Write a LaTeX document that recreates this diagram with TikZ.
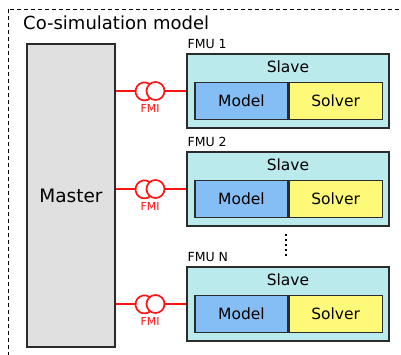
\documentclass[tikz,border=0pt]{standalone}
\usepackage{fontspec}
\setmainfont{DejaVu Sans}

\definecolor{mastergray}{HTML}{E0E0E0}
\definecolor{slavecyan}{HTML}{BAEAEC}
\definecolor{modelblue}{HTML}{84BEF5}
\definecolor{solveryellow}{HTML}{FFF97A}
\definecolor{fmired}{HTML}{FF1414}
\definecolor{edgegray}{HTML}{2B2B2B}

\begin{document}
\begin{tikzpicture}[x=1pt,y=-1pt,
    box/.style={draw=edgegray, line width=1.2pt, inner sep=0pt},
    fmiline/.style={draw=fmired, line width=1.7pt}]

\useasboundingbox (0,0) rectangle (401,354);

% ===== Outer frame =====
\draw[dashed, dash pattern=on 4pt off 3pt, line width=0.8pt] (8,9) rectangle (420,370);
\node[anchor=base west, inner sep=0pt, font=\fontsize{18}{21}\selectfont] (title) at (23,29.5) {Co-simulation model};

% ===== Master =====
\node[box, fill=mastergray, minimum width=88pt, minimum height=303pt,
      font=\fontsize{18.5}{22}\selectfont] (master) at (71,195.5) {Master};

% ===== FMUs =====
\foreach \i/\yc/\lab in {1/91/1, 2/189/2, 3/304/N} {
    \node[box, fill=slavecyan, minimum width=202pt, minimum height=74pt] (slave\i) at (288,\yc) {};
    \node[anchor=base west, inner sep=0pt, font=\fontsize{12.5}{14}\selectfont] (fmu\i) at ([xshift=1pt,yshift=5pt]slave\i.north west) {FMU \lab};
    \node[font=\fontsize{15.5}{18}\selectfont] (slavetxt\i) at ([yshift=-13pt]slave\i.north) {Slave};
    \node[box, fill=modelblue, minimum width=93pt, minimum height=37pt,
          font=\fontsize{15.5}{18}\selectfont] (model\i) at ([xshift=-46.5pt,yshift=-10pt]slave\i.center) {Model};
    \node[box, fill=solveryellow, minimum width=93pt, minimum height=37pt, anchor=west,
          font=\fontsize{15.5}{18}\selectfont] (solver\i) at (model\i.east) {Solver};

    % FMI socket and ball
    \node[circle, fmiline, minimum size=18pt, inner sep=0pt] (ball\i) at (155.5,\yc) {};
    \coordinate (sock\i) at ([xshift=-9.5pt]ball\i.west);
    \draw[fmiline] ([xshift=4pt,yshift=7pt]ball\i.west) arc[start angle=55, end angle=305, radius=9pt];
    \draw[fmiline] (master.east |- ball\i) -- (sock\i);
    \draw[fmiline] (ball\i) -- (slave\i.west);
    \node[text=fmired, font=\fontsize{11}{13}\selectfont] (fmi\i) at ([xshift=4.5pt,yshift=-17pt]ball\i.west) {FMI};
}

% ===== Dots =====
\draw[line width=2pt, dash pattern=on 2pt off 3pt] ([xshift=-2pt,yshift=-7pt]slave2.south) -- ([xshift=-2pt,yshift=8pt]slave3.north);

\end{tikzpicture}
\end{document}
